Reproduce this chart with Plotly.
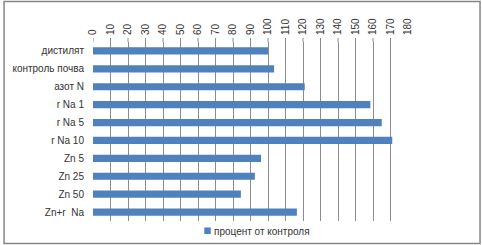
import plotly.graph_objects as go

categories = ["дистилят", "контроль почва", "азот N", "r Na 1", "r Na 5", "r Na 10",
              "Zn 5", "Zn 25", "Zn 50", "Zn+r  Na"]
values = [100, 103.5, 121, 158.5, 165, 171, 96, 92.5, 84.5, 116.5]
series_name = "процент от контроля"
tick_vals = list(range(0, 181, 10))

L, R, T, B = 91, 74, 42, 24
W, H = 482, 245
pw, ph = W - L - R, H - T - B
BAR = "#4F81BD"
GRID = "#8C8C8C"


def px_x(p):
    return (p - L) / pw


def px_y(p):
    return (T + ph - p) / ph


fig = go.Figure()
fig.add_trace(go.Bar(
    x=values, y=categories, orientation="h", name=series_name,
    marker=dict(color=BAR, line=dict(width=0)), width=0.4,
    showlegend=False,
))

shapes = [
    dict(type="rect", xref="paper", yref="paper",
         x0=px_x(1.5), x1=px_x(480.5), y0=px_y(243.5), y1=px_y(1.5),
         line=dict(color="#868686", width=1.5), fillcolor="rgba(0,0,0,0)",
         layer="below"),
    dict(type="rect", xref="paper", yref="paper",
         x0=px_x(203), x1=px_x(209.5), y0=px_y(234), y1=px_y(227.5),
         line=dict(width=0), fillcolor=BAR),
]
# short outside tick marks above the plot (none at the right edge)
for v in tick_vals[:-1]:
    shapes.append(dict(type="line", xref="x", yref="paper", x0=v, x1=v,
                       y0=1, y1=1 + 4 / ph, line=dict(color=GRID, width=1)))

fig.update_layout(
    width=W, height=H,
    margin=dict(l=L, r=R, t=T, b=B),
    paper_bgcolor="white", plot_bgcolor="white",
    font=dict(family="Liberation Sans, Arial, sans-serif", size=10, color="#333333"),
    showlegend=False,
    xaxis=dict(range=[0, 180], tickvals=tick_vals, side="top", tickangle=-90,
               showgrid=True, gridcolor=GRID, gridwidth=1, zeroline=False,
               showline=False, ticks="", ticklabelstandoff=6,
               tickfont=dict(size=10)),
    yaxis=dict(autorange="reversed", showgrid=False, zeroline=False,
               showline=False, ticks="", tickfont=dict(size=10), ticklabelstandoff=8),
    shapes=shapes,
    annotations=[
        dict(text=series_name, xref="paper", yref="paper", x=px_x(211), y=px_y(231),
             xanchor="left", yanchor="middle", showarrow=False,
             font=dict(size=10, color="#333333")),
    ],
)
fig.write_html("out.html")
